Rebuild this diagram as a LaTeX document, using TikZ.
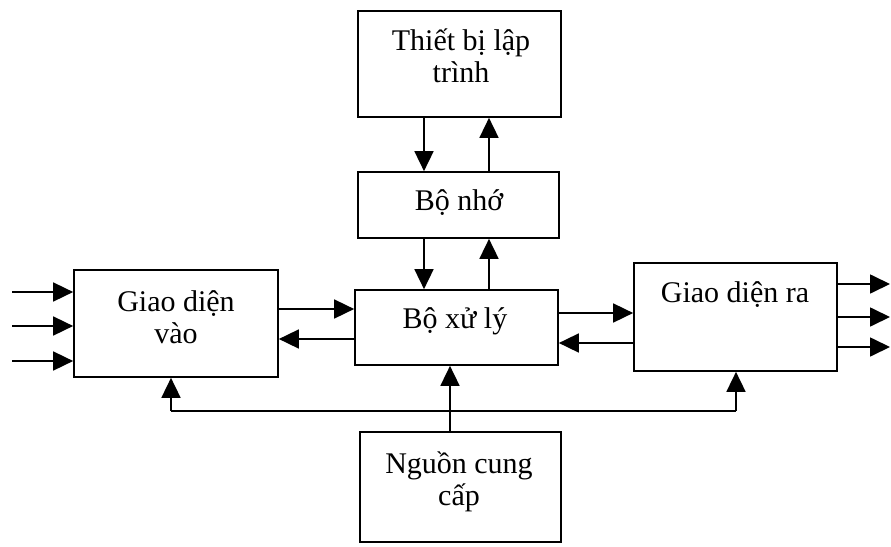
\documentclass[tikz,border=0pt]{standalone}
\usepackage{fontspec}
\setmainfont{Liberation Serif}
\usetikzlibrary{arrows.meta}
\begin{document}
\begin{tikzpicture}[x=1pt,y=-1pt,
  box/.style={draw, line width=1.7pt, inner sep=0pt},
  lbl/.style={font=\fontsize{30}{32.5}\selectfont, align=center, inner sep=0pt},
  arr/.style={line width=1.7pt, -{Triangle[length=20pt,width=19pt]}},
  bus/.style={line width=1.7pt}]
\useasboundingbox (0,0) rectangle (891,546);
% boxes
\node[box, minimum width=203pt, minimum height=106pt] (tb) at (459.5,64) {};
\node[box, minimum width=201pt, minimum height=66pt] (bn) at (458.5,205) {};
\node[box, minimum width=203pt, minimum height=75pt] (xl) at (456.5,327.5) {};
\node[box, minimum width=204pt, minimum height=107pt] (gv) at (176,323.5) {};
\node[box, minimum width=203pt, minimum height=108pt] (gr) at (735.5,317) {};
\node[box, minimum width=201pt, minimum height=110pt] (ng) at (460.5,487) {};
% labels
\node[lbl] (tbt) at (461,56) {Thiết bị lập\\trình};
\node[lbl, anchor=base] (bnt) at (459,210) {Bộ nhớ};
\node[lbl, anchor=base] (xlt) at (455,328) {Bộ xử lý};
\node[lbl] (gvt) at (176,317) {Giao diện\\vào};
\node[lbl, anchor=base] (grt) at (735,302) {Giao diện ra};
\node[lbl] (ngt) at (459,482) {Nguồn cung\\cấp};
% vertical connectors
\draw[arr] (424,0 |- tb.south) -- (424,0 |- bn.north);
\draw[arr] (489,0 |- bn.north) -- (489,0 |- tb.south);
\draw[arr] (424,0 |- bn.south) -- (424,0 |- xl.north);
\draw[arr] (489,0 |- xl.north) -- (489,0 |- bn.south);
% horizontal connectors
\draw[arr] (gv.east |- 0,309) -- (xl.west |- 0,309);
\draw[arr] (xl.west |- 0,339) -- (gv.east |- 0,339);
\draw[arr] (xl.east |- 0,313) -- (gr.west |- 0,313);
\draw[arr] (gr.west |- 0,343) -- (xl.east |- 0,343);
% inputs
\coordinate (in1) at (12,292);
\coordinate (in2) at (12,326);
\coordinate (in3) at (12,361);
\draw[arr] (in1) -- (gv.west |- in1);
\draw[arr] (in2) -- (gv.west |- in2);
\draw[arr] (in3) -- (gv.west |- in3);
% outputs
\coordinate (out1) at (890,284);
\coordinate (out2) at (890,317);
\coordinate (out3) at (890,347);
\draw[arr] (gr.east |- out1) -- (out1);
\draw[arr] (gr.east |- out2) -- (out2);
\draw[arr] (gr.east |- out3) -- (out3);
% power supply
\draw[arr] (450,0 |- ng.north) -- (450,0 |- xl.south);
\coordinate (bl) at (171,411);
\coordinate (br) at (736,411);
\draw[bus] (bl) -- (br);
\draw[arr] (bl) -- (bl |- gv.south);
\draw[arr] (br) -- (br |- gr.south);
\end{tikzpicture}
\end{document}
